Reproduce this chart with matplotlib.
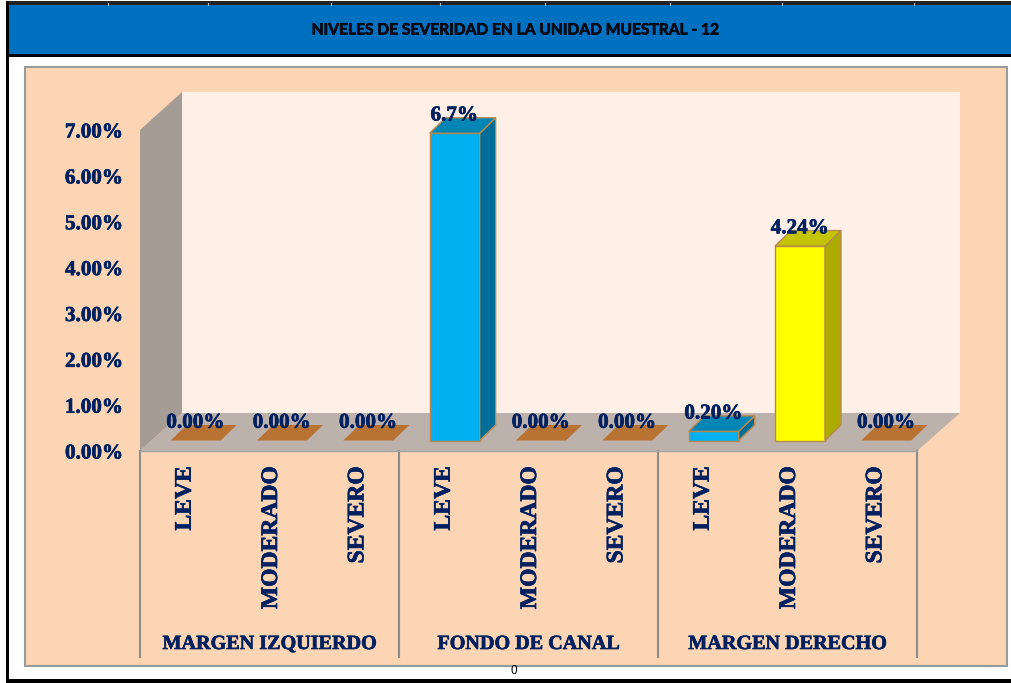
import matplotlib
matplotlib.use("Agg")
import matplotlib.pyplot as plt
import matplotlib.patheffects as pe
from matplotlib.patches import Rectangle, Polygon
from matplotlib.transforms import Affine2D

title = "NIVELES DE SEVERIDAD EN LA UNIDAD MUESTRAL - 12"
groups = ["MARGEN IZQUIERDO", "FONDO DE CANAL", "MARGEN DERECHO"]
categories = ["LEVE", "MODERADO", "SEVERO"] * 3
values = [0.0, 0.0, 0.0, 6.7, 0.0, 0.0, 0.20, 4.24, 0.0]
value_labels = ["0.00%", "0.00%", "0.00%", "6.7%", "0.00%", "0.00%", "0.20%", "4.24%", "0.00%"]
y_ticks = [0, 1, 2, 3, 4, 5, 6, 7]
y_tick_labels = ["0.00%", "1.00%", "2.00%", "3.00%", "4.00%", "5.00%", "6.00%", "7.00%"]

W, H = 1012, 683
NAVY = "#002060"
SERIF = "Liberation Serif"
FRONT = ["#00B0F0", "#FFFF00", "#B87333"]
TOP = ["#0085B5", "#C4C400", "#B87333"]
SIDE = ["#006E97", "#ABAB00", "#B87333"]
EDGE = "#B8894F"
bar_color = [2, 2, 2, 0, 2, 2, 0, 1, 2]
heavy_navy = [pe.withStroke(linewidth=0.5, foreground=NAVY)]

fig = plt.figure(figsize=(W / 100, H / 100), dpi=100, facecolor="white")

# Page furniture, laid out in pixels
bg = fig.add_axes([0, 0, 1, 1])
bg.set_xlim(0, W)
bg.set_ylim(H, 0)
bg.axis("off")
bg.add_patch(Rectangle((6, 1), W, 4, fc="#222222", lw=0))
bg.add_patch(Rectangle((6, 1), 3, H, fc="black", lw=0))
bg.add_patch(Rectangle((6, 679), W, 4, fc="black", lw=0))
bg.add_patch(Rectangle((9, 5), W, 49, fc="#0070C0", lw=0))
bg.add_patch(Rectangle((9, 54), W, 3, fc="black", lw=0))
for tx in [108, 208, 331, 440, 545, 670, 782, 914]:
    bg.plot([tx, tx], [3, 5], color="#BBBBBB", lw=0.8)
bg.add_patch(Rectangle((25.5, 67), 982, 599, fc="#FCD5B5", ec="#9A9A9A", lw=1.5))
bg.add_patch(Polygon([(182, 92), (960, 92), (960, 413), (182, 413)], fc="#FEEFE7", lw=0))
bg.add_patch(Polygon([(140, 130), (182, 92), (182, 413), (140, 451)], fc="#A59C96", lw=0))
bg.add_patch(Polygon([(140, 451), (182, 413), (960, 413), (917, 451)], fc="#BDB1AB", lw=0))
bg.text(515, 30.5, title, ha="center", va="center", family="Lato", weight="bold",
        fontsize=11.2, color="#050A14",
        path_effects=[pe.withStroke(linewidth=0.5, foreground="#050A14")])
bg.text(514, 671, "0", ha="center", va="center", family="Liberation Sans",
        fontsize=8.5, color="black")

# Chart axes: front plane of the 3D box
ax = fig.add_axes([140 / W, 1 - 451 / H, 777 / W, 321 / H])
ax.patch.set_alpha(0)
ax.set_xlim(0, 9)
ax.set_ylim(0, 7)
for s in ax.spines.values():
    s.set_visible(False)
ax.set_yticks(y_ticks, y_tick_labels, family=SERIF, weight="bold", fontsize=15.2, color=NAVY,
              path_effects=heavy_navy)
ax.set_xticks([i + 0.5 for i in range(9)], categories, rotation=90, family=SERIF,
              weight="bold", fontsize=17, color=NAVY, path_effects=heavy_navy)
ax.tick_params(axis="y", length=0, pad=12.4)
ax.tick_params(axis="x", length=0, pad=11)
for lab in ax.get_xticklabels():
    lab.set_transform(lab.get_transform() + Affine2D().translate(2, 0))

px = 777 / 9
py = 321 / 7
shift = Affine2D().translate(12.5, 10.5)
tf = ax.transData + shift
half = 25 / px
dx = 16 / px
dy = 15.5 / py
for i, (v, c) in enumerate(zip(values, bar_color)):
    x = i + 0.5
    if v > 0:
        ax.bar(x, v, width=2 * half, color=FRONT[c], edgecolor=EDGE, linewidth=1.0,
               transform=tf, clip_on=False, zorder=3)
        ax.add_patch(Polygon([(x + half, 0), (x + half + dx, dy), (x + half + dx, v + dy), (x + half, v)],
                             fc=SIDE[c], ec=EDGE, lw=1.0, transform=tf, clip_on=False, zorder=3))
    ax.add_patch(Polygon([(x - half, v), (x + half, v), (x + half + dx, v + dy), (x - half + dx, v + dy)],
                         fc=TOP[c], ec=EDGE if v > 0 else "none", lw=1.0 if v > 0 else 0,
                         transform=tf, clip_on=False, zorder=3))
    ax.annotate(value_labels[i], xy=(x, v), xycoords=tf, xytext=(-0.3, 12.8),
                textcoords="offset points", ha="center", va="center", family=SERIF,
                weight="bold", fontsize=15.2, color=NAVY, zorder=5, annotation_clip=False,
                path_effects=heavy_navy)

xt = ax.get_xaxis_transform()
for b in [0, 3, 6, 9]:
    ax.plot([b, b], [0, -206 / 321], transform=xt, color="#8C8C8C", lw=1.5, clip_on=False, zorder=2)
ax.plot([0, 9], [0, 0], transform=xt, color="#A5A5A5", lw=1.0, clip_on=False, zorder=2)
for g, name in enumerate(groups):
    ax.text(3 * g + 1.5, -193 / 321, name, transform=xt, ha="center", va="center",
            family=SERIF, weight="bold", fontsize=14.5, color=NAVY, path_effects=heavy_navy)

fig.savefig("out.png", dpi=100)
